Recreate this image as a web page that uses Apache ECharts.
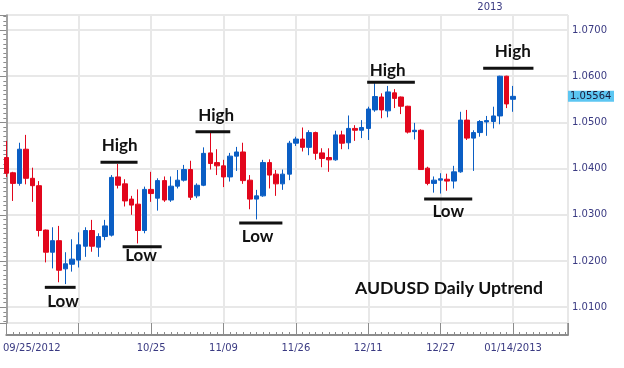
<!DOCTYPE html>
<html>
<head>
<meta charset="utf-8">
<script src="https://cdn.jsdelivr.net/npm/echarts@6/dist/echarts.min.js"></script>
<style>
html,body{margin:0;padding:0;background:#fff;}
#c{width:624px;height:368px;}
</style>
</head>
<body>
<div id="c"></div>
<script>
// ---- data (daily AUDUSD candles, 09/25/2012 .. 01/14/2013) ----
const opens = [1.0424,1.0391,1.0368,1.0442,1.0379,1.0363,1.0267,1.0219,1.0244,1.0183,
1.0193,1.0202,1.0232,1.0266,1.0230,1.0253,1.0256,1.0382,1.0367,1.0334,
1.0323,1.0266,1.0355,1.0336,1.0374,1.0332,1.0362,1.0375,1.0398,1.0341,
1.0364,1.0434,1.0413,1.0406,1.0382,1.0427,1.0436,1.0375,1.0334,1.0341,
1.0413,1.0388,1.0367,1.0388,1.0455,1.0464,1.0446,1.0478,1.0434,1.0424,
1.0419,1.0473,1.0456,1.0487,1.0483,1.0487,1.0527,1.0555,1.0525,1.0564,
1.0555,1.0535,1.0480,1.0483,1.0401,1.0368,1.0375,1.0377,1.0373,1.0393,
1.0505,1.0466,1.0478,1.0501,1.0502,1.0514,1.0600,1.0550];
const closes = [1.0390,1.0368,1.0442,1.0379,1.0363,1.0266,1.0219,1.0244,1.0180,1.0194,
1.0204,1.0235,1.0266,1.0232,1.0253,1.0276,1.0381,1.0364,1.0330,1.0321,
1.0266,1.0355,1.0346,1.0374,1.0332,1.0362,1.0375,1.0398,1.0338,1.0364,
1.0433,1.0411,1.0406,1.0382,1.0427,1.0436,1.0374,1.0334,1.0341,1.0413,
1.0386,1.0367,1.0388,1.0455,1.0464,1.0446,1.0478,1.0433,1.0422,1.0419,
1.0473,1.0455,1.0487,1.0483,1.0489,1.0529,1.0556,1.0527,1.0566,1.0552,
1.0535,1.0479,1.0483,1.0398,1.0368,1.0375,1.0378,1.0373,1.0393,1.0505,
1.0466,1.0478,1.0502,1.0504,1.0514,1.0600,1.0540,1.05564];
const lows = [1.0382,1.0330,1.0363,1.0366,1.0328,1.0253,1.0197,1.0184,1.0154,1.0150,
1.0177,1.0186,1.0209,1.0220,1.0209,1.0245,1.0253,1.0357,1.0318,1.0300,
1.0238,1.0260,1.0328,1.0309,1.0328,1.0328,1.0357,1.0372,1.0332,1.0336,
1.0362,1.0398,1.0386,1.0360,1.0372,1.0395,1.0367,1.0312,1.0290,1.0339,
1.0357,1.0341,1.0354,1.0375,1.0449,1.0437,1.0429,1.0419,1.0403,1.0393,
1.0417,1.0442,1.0442,1.0460,1.0466,1.0462,1.0523,1.0509,1.0511,1.0531,
1.0518,1.0476,1.0463,1.0397,1.0364,1.0348,1.0346,1.0352,1.0357,1.0391,
1.0462,1.0395,1.0469,1.0471,1.0487,1.0496,1.0531,1.0523];
const highs = [1.0460,1.0393,1.0456,1.0473,1.0402,1.0373,1.0268,1.0273,1.0276,1.0219,
1.0247,1.0262,1.0273,1.0289,1.0260,1.0289,1.0386,1.0410,1.0377,1.0341,
1.0355,1.0361,1.0393,1.0379,1.0383,1.0383,1.0397,1.0408,1.0417,1.0368,
1.0446,1.0478,1.0442,1.0419,1.0434,1.0447,1.0456,1.0386,1.0354,1.0419,
1.0420,1.0397,1.0398,1.0460,1.0469,1.0489,1.0483,1.0480,1.0444,1.0444,
1.0482,1.0482,1.0515,1.0494,1.0505,1.0534,1.0585,1.0563,1.0579,1.0572,
1.0556,1.0536,1.0499,1.0485,1.0404,1.0383,1.0390,1.0389,1.0406,1.0523,
1.0527,1.0483,1.0505,1.0514,1.0534,1.0601,1.0601,1.0579];
const tickLabels = ['09/25/2012','','10/25','11/09','11/26','12/11','12/27','01/14/2013'];
const yearLabel = '2013';
const lastPrice = 1.05564;
// swing annotations (data coordinates: candle index, price)
const annoText = ['Low','High','Low','High','Low','High','Low','High'];
const annoLineFrom = [5.85,14.31,17.67,28.75,35.39,54.83,63.49,72.46];
const annoLineTo = [10.53,19.94,23.61,34.03,41.95,62.08,70.80,80.10];
const annoLinePrice = [1.0143,1.0414,1.0231,1.0480,1.0282,1.0587,1.0334,1.0617];
const annoTextIdx = [8.61,17.22,20.47,31.90,38.19,57.96,67.15,76.96];
const annoTextPrice = [1.0112,1.0451,1.0211,1.0516,1.0254,1.0613,1.0307,1.0653];
const chartTitle = 'AUDUSD Daily Uptrend';

const BLUE = '#0b5ec4', RED = '#e2061c';
const AXIS_TXT = '#3a3a82', GRID = '#e8e8e8', AXIS = '#8c8c8c';

const chart = echarts.init(document.getElementById('c'), null, {renderer:'canvas'});
const candles = opens.map((o,i)=>[i, o, closes[i], lows[i], highs[i]]);

chart.setOption({
  animation:false,
  backgroundColor:'#fff',
  title:{text:chartTitle, left:355, top:279, padding:0,
    textStyle:{fontFamily:'Lato', fontWeight:'bold', fontSize:17.6, color:'#111'}},
  grid:{left:3, right:56, top:15, bottom:45},
  xAxis:{
    type:'value', min:0, max:85.35, interval:11,
    offset:12,
    axisLine:{show:true, lineStyle:{color:AXIS, width:2}},
    axisTick:{show:true, inside:true, length:12, lineStyle:{color:AXIS}},
    minorTick:{show:true, splitNumber:11, length:3, lineStyle:{color:AXIS}},
    splitLine:{show:true, lineStyle:{color:GRID, width:2}},
    axisLabel:{
      margin:8, color:AXIS_TXT, fontFamily:'DejaVu Sans', fontSize:10,
      showMaxLabel:true,
      formatter:function(v){
        const k = Math.round(v);
        if (Math.abs(v-k) > 1e-6 || k % 11 !== 0) return '';
        const t = tickLabels[k/11] || '';
        if (k === 0 && t) return '{l|' + t + '}';
        return t;
      },
      rich:{l:{padding:[0,0,0,51], color:AXIS_TXT, fontFamily:'DejaVu Sans', fontSize:10}}
    }
  },
  yAxis:{
    type:'value', position:'right', scale:true,
    min:1.00658, max:1.07325, minInterval:0.01, maxInterval:0.01, splitNumber:7,
    axisLine:{show:true, lineStyle:{color:AXIS, width:1.5}},
    axisTick:{show:true, inside:true, length:7, lineStyle:{color:AXIS}},
    minorTick:{show:true, splitNumber:10, length:3, lineStyle:{color:AXIS}},
    splitLine:{show:true, lineStyle:{color:GRID, width:2}},
    axisLabel:{margin:4, color:AXIS_TXT, fontFamily:'DejaVu Sans', fontSize:10,
      showMinLabel:false, showMaxLabel:false,
      formatter:function(v){ return v.toFixed(4); }}
  },
  series:[{
    type:'candlestick',
    data:candles,
    barWidth:5,
    clip:false,
    itemStyle:{color:BLUE, color0:RED, borderColor:BLUE, borderColor0:RED, borderWidth:1}
  }]
});

const P = (x,y)=>chart.convertToPixel({xAxisIndex:0, yAxisIndex:0}, [x,y]);
const g = [];
for (let i=0;i<annoText.length;i++){
  const a = P(annoLineFrom[i], annoLinePrice[i]);
  const b = P(annoLineTo[i], annoLinePrice[i]);
  g.push({type:'line', shape:{x1:a[0], y1:a[1], x2:b[0], y2:b[1]},
    style:{stroke:'#111', lineWidth:3}, z:100});
  const t = P(annoTextIdx[i], annoTextPrice[i]);
  g.push({type:'text', x:t[0], y:t[1], z:100,
    style:{text:annoText[i], textAlign:'center', textVerticalAlign:'middle',
      font:'bold 17px Lato', fill:'#111'}});
}
const lp = P(0, lastPrice);
const gr = P(85.35, lastPrice);
const gb = P(85.35, 1.00658);
// continue the price-axis line down to the date axis
g.push({type:'line', shape:{x1:gb[0], y1:gb[1], x2:gb[0], y2:gb[1]+12},
  style:{stroke:AXIS, lineWidth:1.5}, z:50});
g.push({type:'rect', shape:{x:gr[0], y:lp[1]-5.5, width:46, height:11},
  style:{fill:'#5cc6f2'}, z:100});
g.push({type:'text', x:gr[0]+2, y:lp[1], z:101,
  style:{text:lastPrice.toFixed(5), textAlign:'left', textVerticalAlign:'middle',
    font:'10px "DejaVu Sans"', fill:'#1a1a3a'}});
g.push({type:'text', x:490, y:7, z:100,
  style:{text:yearLabel, textAlign:'center', textVerticalAlign:'middle',
    font:'10px "DejaVu Sans"', fill:AXIS_TXT}});
chart.setOption({graphic:g});
</script>
</body>
</html>
